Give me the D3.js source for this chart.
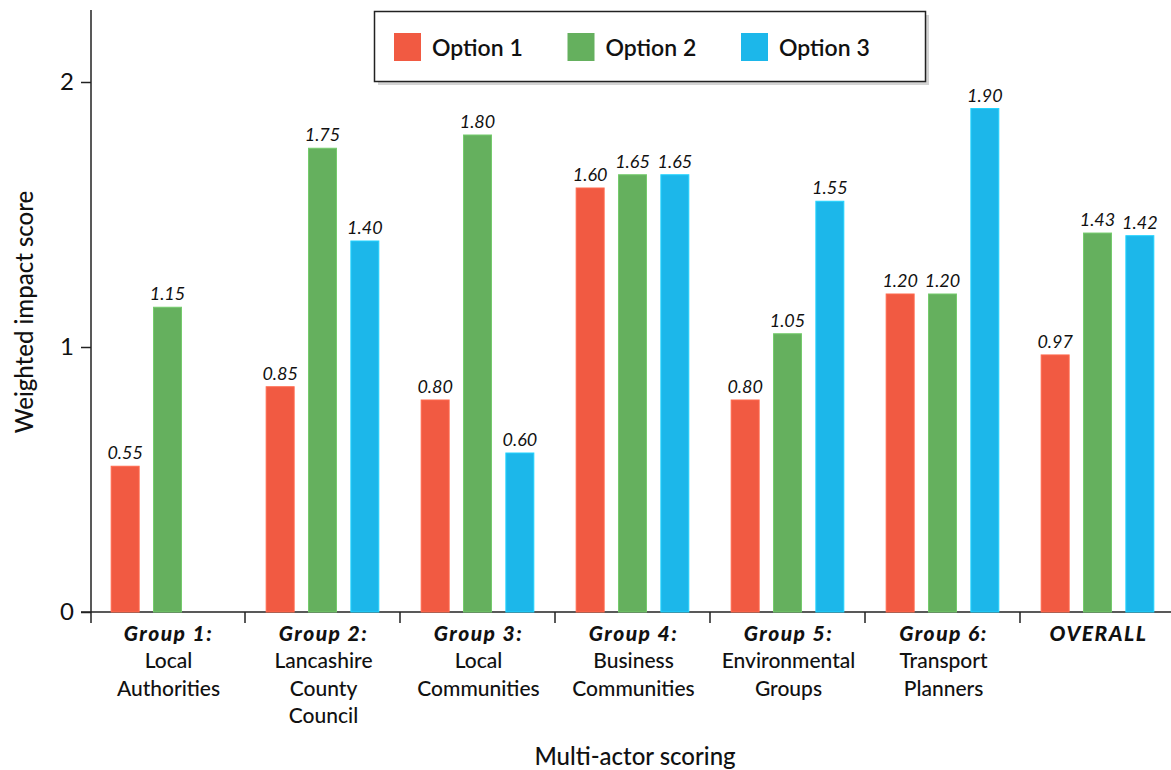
<!DOCTYPE html>
<html><head><meta charset="utf-8">
<script src="https://cdn.jsdelivr.net/npm/d3@7"></script>
<style>body{margin:0;background:#fff}svg{display:block;font-family:Lato,"Open Sans",sans-serif}</style>
</head><body><svg id="c" width="1171" height="770"></svg>
<script>
const groupTitles = ["Group 1:", "Group 2:", "Group 3:", "Group 4:", "Group 5:", "Group 6:", "OVERALL"];
const groupNames = [["Local","Authorities"],["Lancashire","County","Council"],["Local","Communities"],["Business","Communities"],["Environmental","Groups"],["Transport","Planners"],[]];
const seriesNames = ["Option 1", "Option 2", "Option 3"];
const option1 = [0.55, 0.85, 0.80, 1.60, 0.80, 1.20, 0.97];
const option2 = [1.15, 1.75, 1.80, 1.65, 1.05, 1.20, 1.43];
const option3 = [null, 1.40, 0.60, 1.65, 1.55, 1.90, 1.42];
const colors = ["#F15A42", "#65B05E", "#1CB7EA"];
const yTicks = [0, 1, 2];
const xTitle = "Multi-actor scoring";
const yTitle = "Weighted impact score";

const series = [option1, option2, option3];
const svg = d3.select("#c");
const x0 = d3.scaleBand().domain(groupTitles).range([90, 1175]).padding(0);
const x1 = d3.scaleBand().domain(seriesNames).range([0, x0.bandwidth()]).paddingInner(0.34).paddingOuter(0.5);
const y = d3.scaleLinear().domain([0, 2]).range([612, 82]);
const color = d3.scaleOrdinal().domain(seriesNames).range(colors);

// Y axis
const yAx = svg.append("g").attr("transform","translate(91,0)")
  .call(d3.axisLeft(y).tickValues(yTicks).tickFormat(d3.format("d")).tickSize(10).tickPadding(7));
yAx.select(".domain").remove();
yAx.selectAll("text").attr("font-size",24).attr("fill","#111").attr("font-family","Lato, sans-serif");
yAx.selectAll("line").attr("stroke","#222").attr("stroke-width",1.5);
svg.append("line").attr("x1",91).attr("x2",91).attr("y1",10).attr("y2",y(0)).attr("stroke","#222").attr("stroke-width",1.5);

// X axis line and ticks
svg.append("line").attr("x1",81).attr("x2",1171).attr("y1",y(0)).attr("y2",y(0)).attr("stroke","#222").attr("stroke-width",1.5);
svg.append("g").selectAll("line").data(groupTitles).join("line")
  .attr("x1",d=>x0(d)+(d===groupTitles[0]?1:0)).attr("x2",d=>x0(d)+(d===groupTitles[0]?1:0))
  .attr("y1",y(0)).attr("y2",y(0)+11).attr("stroke","#222").attr("stroke-width",1.5);

// X labels
svg.append("g").selectAll("text").data(groupTitles).join("text")
  .attr("text-anchor","middle").attr("fill","#111").attr("font-size",21)
  .attr("font-weight","900").attr("font-style","italic").attr("letter-spacing",1.5)
  .attr("x",d=>x0(d)+x0.bandwidth()/2+1).attr("y",641).text(d=>d);
groupTitles.forEach((g,i)=>{
  groupNames[i].forEach((ln,j)=>{
    svg.append("text").attr("text-anchor","middle").attr("fill","#111").attr("font-size",21)
      .attr("font-weight",500)
      .attr("x",x0(g)+x0.bandwidth()/2+1).attr("y",668+j*27.5).text(ln);
  });
});

// Bars
const rows = groupTitles.map((g,i)=>({g, vals: seriesNames.map((s,k)=>({s, v: series[k][i]}))}));
const gg = svg.append("g").selectAll("g").data(rows).join("g").attr("transform",d=>`translate(${x0(d.g)},0)`);
gg.selectAll("rect").data(d=>d.vals.filter(e=>e.v!=null)).join("rect")
  .attr("x",d=>x1(d.s)).attr("width",x1.bandwidth())
  .attr("y",d=>y(d.v)).attr("height",d=>y(0)-y(d.v))
  .attr("fill",d=>color(d.s))
  .attr("stroke",d=>d3.color(color(d.s)).brighter(0.4)).attr("stroke-width",1);
gg.selectAll("text").data(d=>d.vals.filter(e=>e.v!=null)).join("text")
  .attr("x",d=>x1(d.s)+x1.bandwidth()/2).attr("y",d=>y(d.v)-7)
  .attr("text-anchor","middle").attr("font-style","italic").attr("font-size",18).attr("fill","#111")
  .text(d=>d3.format(".2f")(d.v));

// Axis titles
svg.append("text").attr("text-anchor","middle").attr("font-size",24).attr("font-weight",500).attr("fill","#111")
  .attr("transform","translate(33,312) rotate(-90)").text(yTitle);
svg.append("text").attr("text-anchor","middle").attr("font-size",24).attr("font-weight",500).attr("fill","#111")
  .attr("x",635).attr("y",765).text(xTitle);

// Legend
const lg = svg.append("g");
lg.append("rect").attr("x",378).attr("y",15).attr("width",551).attr("height",70).attr("fill","#d4d4d4");
lg.append("rect").attr("x",374.5).attr("y",11.5).attr("width",551).attr("height",70).attr("fill","#fff").attr("stroke","#222").attr("stroke-width",1.5);
const li = lg.selectAll("g.it").data(seriesNames).join("g").attr("class","it")
  .attr("transform",(d,i)=>`translate(${394+i*173.5},33)`);
li.append("rect").attr("width",27).attr("height",28).attr("fill",d=>color(d));
li.append("text").attr("x",38).attr("y",23).attr("font-size",23).attr("font-weight",600).attr("fill","#111").text(d=>d);
</script></body></html>
